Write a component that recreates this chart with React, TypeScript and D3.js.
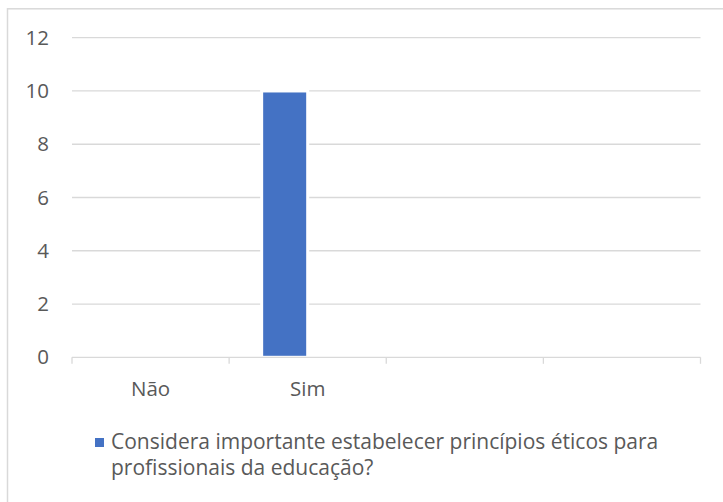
import * as d3 from 'd3'

const categories = ['Não', 'Sim', '', '']
const seriesNames = ['Considera importante estabelecer princípios éticos para profissionais da educação?', '']
const seriesValues = [
  [0, 10, null, null],
  [null, null, null, null],
]
const yTicks = [0, 2, 4, 6, 8, 10, 12]
const legendLines = ['Considera importante estabelecer princípios éticos para', 'profissionais da educação?']

const W = 723
const H = 502
const FONT = '"Open Sans", Lato, sans-serif'
const TEXT = '#595959'
const GRID = '#d9d9d9'
const BAR = '#4472c4'

export default function App() {
  const plot = { left: 72, right: 700.5, top: 37.7, bottom: 357.3 }

  const y = d3.scaleLinear().domain([0, 12]).range([plot.bottom, plot.top])
  const x = d3
    .scaleBand<number>()
    .domain(d3.range(categories.length))
    .range([plot.left, plot.right])
    .padding(0)
  const xs = d3
    .scaleBand<number>()
    .domain(d3.range(seriesNames.length))
    .range([0, x.bandwidth()])
    .paddingInner(0)
    .paddingOuter(0.707)

  const tickXs = [...x.domain().map(i => x(i)!), plot.right]

  return (
    <svg
      width={W}
      height={H}
      style={{ position: 'absolute', left: 0, top: 0, background: '#fff' }}
      fontFamily={FONT}
    >
      <rect x={7.5} y={8.8} width={W} height={H} fill="#fff" stroke={GRID} strokeWidth={1.5} />

      {/* gridlines */}
      {yTicks.filter(t => t > 0).map(t => (
        <line key={t} x1={plot.left} x2={plot.right} y1={y(t)} y2={y(t)} stroke={GRID} strokeWidth={1.3} />
      ))}

      {/* bars */}
      {seriesValues.map((vals, si) =>
        vals.map((v, ci) =>
          v ? (
            <rect
              key={`${si}-${ci}`}
              x={x(ci)! + xs(si)!}
              y={y(v)}
              width={xs.bandwidth()}
              height={y(0) - y(v)}
              fill={BAR}
              stroke="#fff"
              strokeWidth={3}
            />
          ) : null
        )
      )}

      {/* x axis */}
      <line x1={plot.left} x2={plot.right} y1={y(0)} y2={y(0)} stroke={GRID} strokeWidth={1.3} />
      {tickXs.map((tx, i) => (
        <line key={i} x1={tx} x2={tx} y1={y(0)} y2={y(0) + 6.5} stroke={GRID} strokeWidth={1.3} />
      ))}
      {categories.map((c, i) => (
        <text key={i} x={x(i)! + x.bandwidth() / 2} y={396} textAnchor="middle" fontSize={20.5} fill={TEXT}>
          {c}
        </text>
      ))}

      {/* y labels */}
      {yTicks.map(t => (
        <text key={t} x={49} y={y(t)} dy="0.35em" textAnchor="end" fontSize={20.5} fill={TEXT}>
          {t}
        </text>
      ))}

      {/* legend */}
      <rect x={95} y={438} width={9} height={9} fill={BAR} />
      {legendLines.map((l, i) => (
        <text key={i} x={111} y={449 + i * 26} fontSize={21} fill={TEXT}>
          {l}
        </text>
      ))}
    </svg>
  )
}
